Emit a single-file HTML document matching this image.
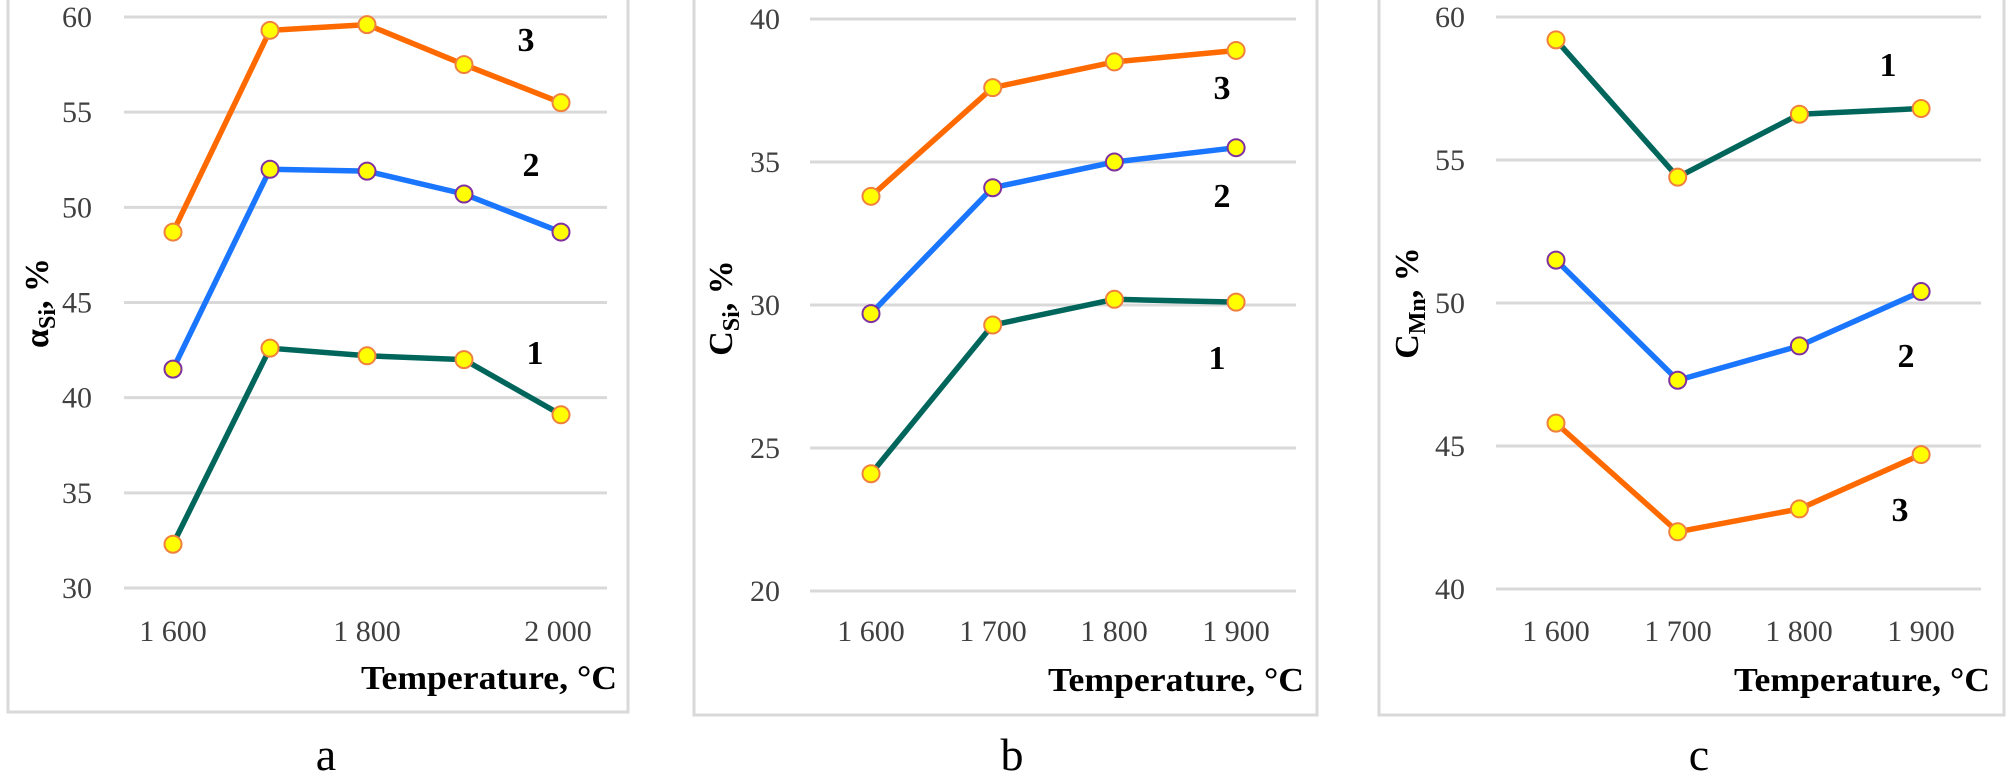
<!DOCTYPE html>
<html><head><meta charset="utf-8">
<style>
html,body{margin:0;padding:0;background:#fff;}
svg{display:block;}
text{font-family:"Liberation Serif",serif;}
.tk{font-size:30px;fill:#404040;}
.tt{font-size:34px;font-weight:bold;fill:#000;}
.num{font-size:34px;font-weight:bold;fill:#000;}
.pl{font-size:46px;fill:#000;}
</style></head>
<body>
<svg id="s" width="2007" height="777" viewBox="0 0 2007 777" xmlns="http://www.w3.org/2000/svg">
<rect x="8" y="-5" width="620" height="717" fill="none" stroke="#d9d9d9" stroke-width="3"/>
<rect x="694" y="-5" width="623" height="720" fill="none" stroke="#d9d9d9" stroke-width="3"/>
<rect x="1379" y="-5" width="625" height="720" fill="none" stroke="#d9d9d9" stroke-width="3"/>
<text class="tt" x="617" y="689" text-anchor="end" textLength="256" lengthAdjust="spacingAndGlyphs">Temperature, °C</text>
<text class="tt" x="1304" y="691" text-anchor="end" textLength="256" lengthAdjust="spacingAndGlyphs">Temperature, °C</text>
<text class="tt" x="1990" y="691" text-anchor="end" textLength="256" lengthAdjust="spacingAndGlyphs">Temperature, °C</text>
<text class="tt" transform="translate(48,303) rotate(-90)" text-anchor="middle">α<tspan font-size="24" dy="7">Si</tspan><tspan dy="-7">, %</tspan></text>
<text class="tt" transform="translate(732,308) rotate(-90)" text-anchor="middle">C<tspan font-size="24" dy="7">Si</tspan><tspan dy="-7">, %</tspan></text>
<text class="tt" transform="translate(1418,303) rotate(-90)" text-anchor="middle">C<tspan font-size="24" dy="7">Mn</tspan><tspan dy="-7">, %</tspan></text>
<text class="pl" x="326" y="770" text-anchor="middle">a</text>
<text class="pl" x="1012" y="770" text-anchor="middle">b</text>
<text class="pl" x="1699" y="770" text-anchor="middle">c</text>
<g id="g"></g>
</svg>
<script>
var NS="http://www.w3.org/2000/svg",g=document.getElementById("g");
function el(t,a,txt){var e=document.createElementNS(NS,t);for(var k in a)e.setAttribute(k,a[k]);if(txt!==undefined)e.textContent=txt;g.appendChild(e);return e;}
var OR="#ff6a00",BL="#1a75ff",GR="#00665c";
var panels=[
{gx0:124,gx1:607,ymax:60,ymin:30,step:5,y0:17,y1:588,lx:92,x0:173,dx:97,
 xl:[[173,"1 600"],[367,"1 800"],[558,"2 000"]],
 series:[[GR,"#f08040",[32.3,42.6,42.2,42.0,39.1]],[BL,"#8030a0",[41.5,52.0,51.9,50.7,48.7]],[OR,"#f08040",[48.7,59.3,59.6,57.5,55.5]]],
 nums:[["3",526,51],["2",531,176],["1",535,364]]},
{gx0:810,gx1:1296,ymax:40,ymin:20,step:5,y0:19,y1:591,lx:780,x0:871,dx:121.7,
 xl:[[871,"1 600"],[993,"1 700"],[1114,"1 800"],[1236,"1 900"]],
 series:[[GR,"#f08040",[24.1,29.3,30.2,30.1]],[BL,"#8030a0",[29.7,34.1,35.0,35.5]],[OR,"#f08040",[33.8,37.6,38.5,38.9]]],
 nums:[["3",1222,99],["2",1222,207],["1",1217,369]]},
{gx0:1496,gx1:1981,ymax:60,ymin:40,step:5,y0:17,y1:589,lx:1465,x0:1556,dx:121.7,
 xl:[[1556,"1 600"],[1678,"1 700"],[1799,"1 800"],[1921,"1 900"]],
 series:[[OR,"#f08040",[45.8,42.0,42.8,44.7]],[BL,"#8030a0",[51.5,47.3,48.5,50.4]],[GR,"#f08040",[59.2,54.4,56.6,56.8]]],
 nums:[["1",1888,76],["2",1906,367],["3",1900,521]]}
];
panels.forEach(function(p){
 function Y(v){return p.y0+(p.ymax-v)/(p.ymax-p.ymin)*(p.y1-p.y0);}
 for(var v=p.ymin;v<=p.ymax;v+=p.step){var y=Y(v);
  el("line",{x1:p.gx0,x2:p.gx1,y1:y,y2:y,stroke:"#d9d9d9","stroke-width":3});
  el("text",{x:p.lx,y:y+10,"text-anchor":"end","class":"tk"},String(v));}
 p.xl.forEach(function(l){el("text",{x:l[0],y:641,"text-anchor":"middle","class":"tk"},l[1]);});
 p.series.forEach(function(s){
  var pts=s[2].map(function(v,i){return (p.x0+i*p.dx)+","+Y(v);}).join(" ");
  el("polyline",{points:pts,fill:"none",stroke:s[0],"stroke-width":5.5,"stroke-linejoin":"round"});
  s[2].forEach(function(v,i){el("circle",{cx:p.x0+i*p.dx,cy:Y(v),r:8.5,fill:"#ffff00",stroke:s[1],"stroke-width":2});});
 });
 p.nums.forEach(function(n){el("text",{x:n[1],y:n[2],"text-anchor":"middle","class":"num"},n[0]);});
});
</script>
</body></html>
